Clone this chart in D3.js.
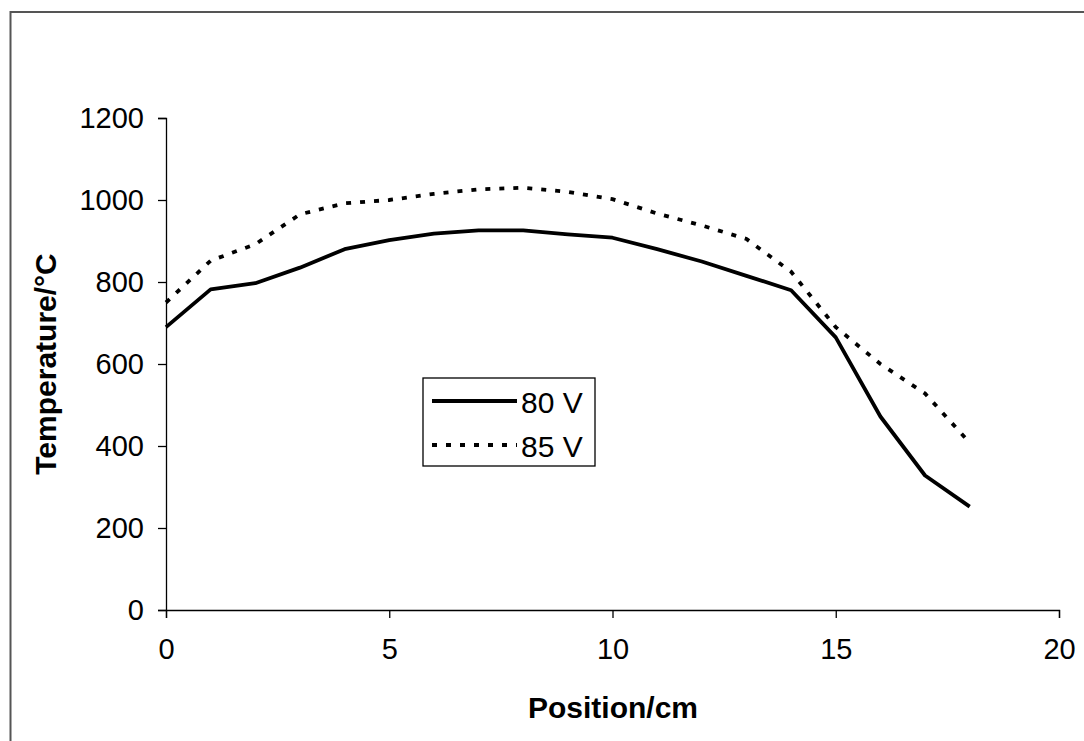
<!DOCTYPE html>
<html>
<head>
<meta charset="utf-8">
<script src="https://cdn.jsdelivr.net/npm/d3@7"></script>
<style>
  body { margin: 0; background: #fff; }
  text { font-family: "Liberation Sans", Arial, sans-serif; }
</style>
</head>
<body>
<script>
// data
var positions = [0, 1, 2, 3, 4, 5, 6, 7, 8, 9, 10, 11, 12, 13, 14, 15, 16, 17, 18];
var temps80 = [690, 782, 797, 835, 880, 902, 918, 926, 926, 916, 908, 880, 850, 815, 780, 665, 472, 328, 252];
var temps85 = [750, 852, 892, 965, 992, 1000, 1015, 1026, 1030, 1020, 1002, 967, 938, 905, 825, 690, 600, 528, 408];
var seriesNames = ["80 V", "85 V"];
var xTicks = [0, 5, 10, 15, 20];
var yTicks = [0, 200, 400, 600, 800, 1000, 1200];

var W = 1084, H = 741;
var margin = {top: 118, right: 25, bottom: 131, left: 166};
var width = W - margin.left - margin.right,
    height = H - margin.top - margin.bottom;

var svg = d3.select("body").append("svg")
    .attr("width", W)
    .attr("height", H);

// outer frame (only top and left edges show)
svg.append("path")
    .attr("d", "M10.5,741 V12 H1084")
    .attr("fill", "none")
    .attr("stroke", "#555")
    .attr("stroke-width", 2);

var g = svg.append("g")
    .attr("transform", "translate(" + margin.left + "," + margin.top + ")");

var x = d3.scaleLinear().domain([0, 20]).range([0, width]);
var y = d3.scaleLinear().domain([0, 1200]).range([height, 0]);

// axes
var xAxis = g.append("g")
    .attr("transform", "translate(0," + height + ")")
    .call(d3.axisBottom(x).tickValues(xTicks).tickSize(8).tickPadding(20).tickFormat(d3.format("d")));
var yAxis = g.append("g")
    .call(d3.axisLeft(y).tickValues(yTicks).tickSize(8).tickPadding(14).tickFormat(d3.format("d")));

[xAxis, yAxis].forEach(function(a) {
  a.select(".domain").attr("stroke", "#000").attr("stroke-width", 1.3);
  a.selectAll(".tick line").attr("stroke", "#000").attr("stroke-width", 1.3);
  a.selectAll(".tick text")
    .attr("font-family", "Liberation Sans, Arial, sans-serif")
    .attr("font-size", 29)
    .attr("fill", "#000");
});

// lines
var line = function(vals) {
  return d3.line()
    .x(function(d, i) { return x(positions[i]); })
    .y(function(d) { return y(d); })(vals);
};

g.append("path")
    .attr("d", line(temps80))
    .attr("fill", "none")
    .attr("stroke", "#000")
    .attr("stroke-width", 3.8)
    .attr("stroke-linejoin", "round");

g.append("path")
    .attr("d", line(temps85))
    .attr("fill", "none")
    .attr("stroke", "#000")
    .attr("stroke-width", 3.8)
    .attr("stroke-dasharray", "5,9");

// axis titles
svg.append("text")
    .attr("x", 613)
    .attr("y", 718)
    .attr("text-anchor", "middle")
    .attr("font-size", 30)
    .attr("font-weight", "bold")
    .text("Position/cm");

svg.append("text")
    .attr("transform", "translate(56,364) rotate(-90)")
    .attr("text-anchor", "middle")
    .attr("font-size", 30)
    .attr("font-weight", "bold")
    .text("Temperature/\u00B0C");

// legend
var legend = svg.append("g").attr("transform", "translate(423,378)");
legend.append("rect")
    .attr("width", 172)
    .attr("height", 88)
    .attr("fill", "#fff")
    .attr("stroke", "#000")
    .attr("stroke-width", 1.3);

var dashes = [null, "5,9"];
seriesNames.forEach(function(name, i) {
  var ly = 23 + i * 44;
  legend.append("line")
    .attr("x1", 9).attr("x2", 94)
    .attr("y1", ly).attr("y2", ly)
    .attr("stroke", "#000")
    .attr("stroke-width", 3.8)
    .attr("stroke-dasharray", dashes[i]);
  legend.append("text")
    .attr("x", 98)
    .attr("y", ly + 12)
    .attr("font-size", 30)
    .text(name);
});
</script>
</body>
</html>
